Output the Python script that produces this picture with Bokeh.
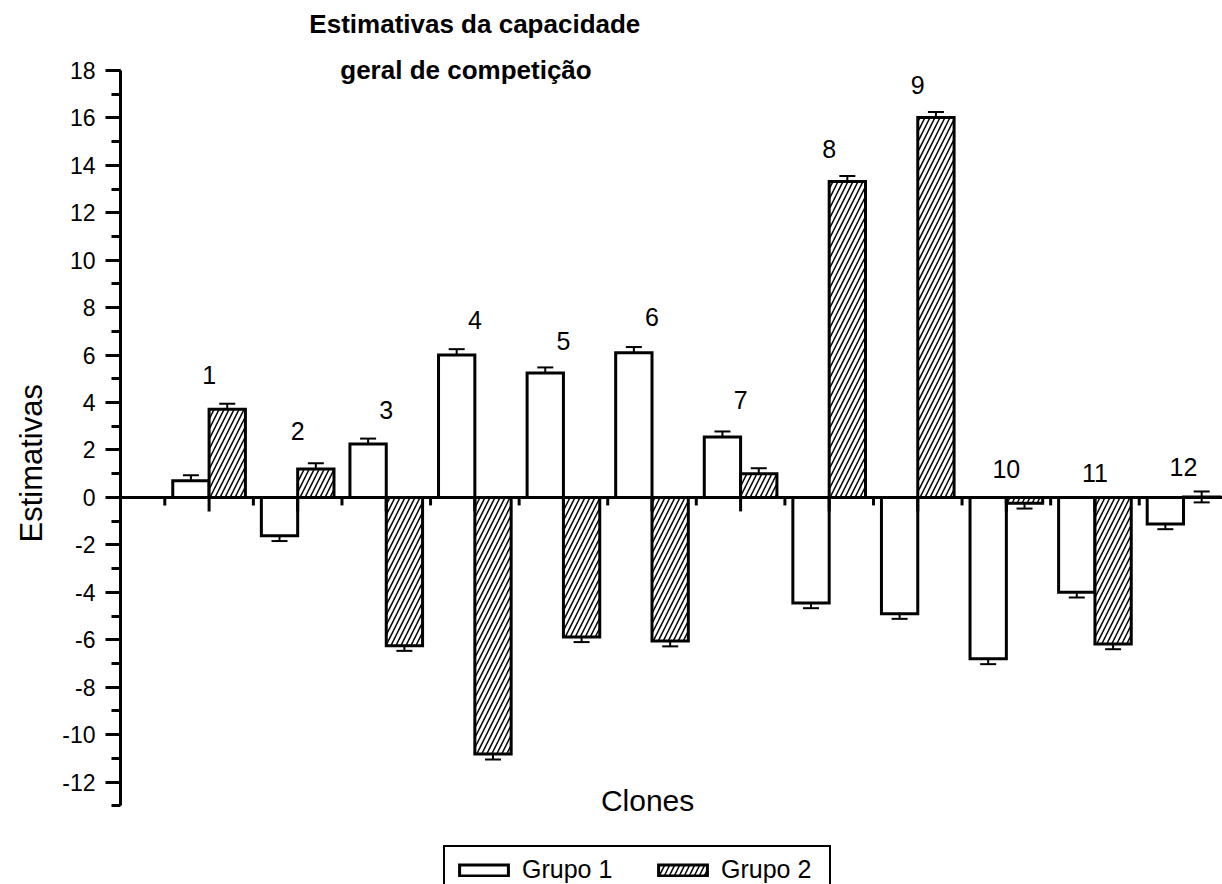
from bokeh.plotting import figure
from bokeh.models import (ColumnDataSource, Range1d, Whisker, TeeHead, FixedTicker,
                          LinearAxis, Label, Legend, LegendItem, Span, Title)
from bokeh.core.properties import value
from bokeh.embed import file_html
from bokeh.resources import INLINE
import numpy as np

# ---- data ----
clones = ["1", "2", "3", "4", "5", "6", "7", "8", "9", "10", "11", "12"]
grupo1 = [0.70, -1.62, 2.25, 6.00, 5.25, 6.10, 2.55, -4.45, -4.90, -6.80, -4.00, -1.12]
grupo2 = [3.72, 1.20, -6.25, -10.82, -5.88, -6.05, 1.00, 13.32, 16.02, -0.25, -6.18, 0.02]
erro1 = [0.23, 0.22, 0.23, 0.25, 0.23, 0.24, 0.23, 0.22, 0.22, 0.23, 0.22, 0.22]
erro2 = [0.23, 0.24, 0.22, 0.23, 0.22, 0.23, 0.23, 0.23, 0.23, 0.22, 0.22, 0.23]
label_y = [5.14, 2.8, 3.7, 7.5, 6.6, 7.6, 4.1, 14.7, 17.4, 1.2, 1.05, 1.3]
y_ticks = [-12, -10, -8, -6, -4, -2, 0, 2, 4, 6, 8, 10, 12, 14, 16, 18]
y_minor = list(range(-13, 19))

FONT = "Liberation Sans"

cats = np.arange(1, len(clones) + 1, dtype=float)
half = 0.205
src = ColumnDataSource(dict(
    x=cats, x1=cats - half, x2=cats + half,
    g1=grupo1, g2=grupo2,
    u1=np.array(grupo1) + np.array(erro1), l1=np.array(grupo1) - np.array(erro1),
    u2=np.array(grupo2) + np.array(erro2), l2=np.array(grupo2) - np.array(erro2),
    ly=label_y, clones=clones, zero=np.zeros(len(clones)),
))
minor_x = np.append(cats - 0.5, cats[-1] + 0.5)
msrc = ColumnDataSource(dict(x=minor_x, y=np.zeros(len(minor_x))))

p = figure(width=1222, height=884,
           x_range=Range1d(0, 12.44), y_range=Range1d(-16.32, 20.95),
           output_backend="svg", toolbar_location=None,
           x_axis_location=None, y_axis_location=None,
           min_border_left=120, min_border_right=0, min_border_top=0, min_border_bottom=0)
p.outline_line_color = None
p.grid.grid_line_color = None
p.background_fill_color = "white"
p.border_fill_color = "white"

# y axis
yaxis = LinearAxis(ticker=FixedTicker(ticks=y_ticks, minor_ticks=y_minor), bounds=(-13, 18))
yaxis.major_label_overrides = {t: str(t) for t in y_ticks}
yaxis.axis_line_width = 3
yaxis.major_tick_line_width = 3
yaxis.minor_tick_line_width = 3
yaxis.major_tick_out = 15
yaxis.major_tick_in = 0
yaxis.minor_tick_out = 9
yaxis.minor_tick_in = 0
yaxis.major_label_text_font = FONT
yaxis.major_label_text_font_size = "23px"
yaxis.major_label_text_color = "black"
yaxis.major_label_standoff = 10
p.add_layout(yaxis, "left")

p.add_layout(Title(text="Estimativas", align="left", offset=342, standoff=21,
                   text_line_height=1.0,
                   text_font=FONT, text_font_size="31px", text_font_style="normal",
                   text_color="black"), "left")

# bars
r1 = p.vbar(x="x1", top="g1", bottom=0, width=2 * half, source=src,
            fill_color="white", line_color="black", line_width=3, line_join="miter")
r2 = p.vbar(x="x2", top="g2", bottom=0, width=2 * half, source=src,
            fill_color="white", line_color="black", line_width=3, line_join="miter",
            hatch_pattern="/", hatch_scale=10, hatch_weight=1.5, hatch_color="black")

# x axis at y = 0 with major (category) and minor (boundary) ticks
p.add_layout(Span(location=0, dimension="width", line_color="black", line_width=3))
p.ray(x="x", y="zero", length=14, length_units="screen", angle=-np.pi / 2,
      line_color="black", line_width=3, source=src)
p.ray(x="x", y="y", length=8, length_units="screen", angle=-np.pi / 2,
      line_color="black", line_width=3, source=msrc)

for up, lo, xx in (("u1", "l1", "x1"), ("u2", "l2", "x2")):
    w = Whisker(base=xx, upper=up, lower=lo, source=src, line_width=2, line_color="black",
                upper_head=TeeHead(size=16, line_width=2, line_color="black"),
                lower_head=TeeHead(size=16, line_width=2, line_color="black"))
    p.add_layout(w)

# clone numbers
p.text(x="x", y="ly", text="clones", source=src, text_font=value(FONT),
       text_font_size="25px", text_align="center", text_baseline="middle", text_color="black")

# title (two lines)
p.add_layout(Label(x=4.0, y=19.94, text="Estimativas da capacidade",
                   text_font=FONT, text_font_style="bold",
                   text_font_size="26px", text_align="center", text_baseline="middle",
                   text_color="black"))
p.add_layout(Label(x=3.9, y=18.0, text="geral de competição",
                   text_font=FONT, text_font_style="bold",
                   text_font_size="26px", text_align="center", text_baseline="middle",
                   text_color="black"))

# x axis title
p.add_layout(Label(x=5.95, y=-12.77, text="Clones", text_font=FONT,
                   text_font_size="30px", text_align="center", text_baseline="middle",
                   text_color="black"))

legend = Legend(items=[LegendItem(label="Grupo 1", renderers=[r1]),
                       LegendItem(label="Grupo 2", renderers=[r2])],
                orientation="horizontal", location=(323, -10),
                glyph_width=61, glyph_height=14, label_standoff=8, spacing=30,
                label_width=100, padding=8, margin=0,
                border_line_color="black", border_line_width=2, border_line_alpha=1,
                label_text_font=FONT, label_text_font_size="25px", label_text_color="black",
                background_fill_color="white", background_fill_alpha=1)
p.add_layout(legend, "center")

open("out.html", "w").write(file_html(p, INLINE))
